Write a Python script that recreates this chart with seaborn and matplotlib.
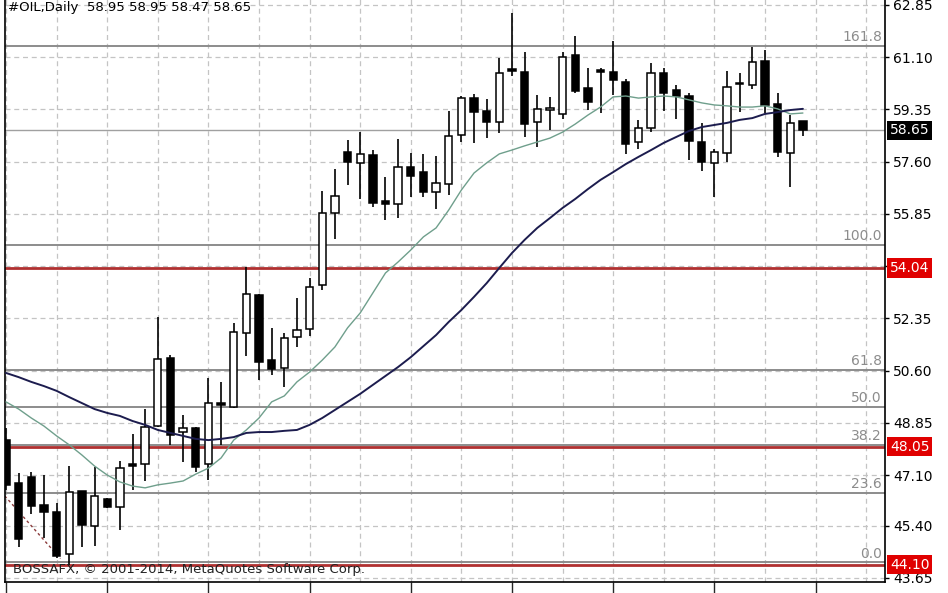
import numpy as np
import pandas as pd
import matplotlib
matplotlib.use("Agg")
import matplotlib.pyplot as plt
import matplotlib.transforms as mtransforms
import seaborn as sns

# daily OHLC (oldest first)
opens = [48.27, 46.83, 47.03, 46.10, 45.86, 44.46, 46.56, 45.39, 46.30, 46.03,
         47.47, 47.47, 48.74, 51.02, 48.54, 48.68, 47.47, 49.51, 49.38, 51.86,
         53.13, 50.95, 50.69, 51.73, 51.99, 53.47, 55.88, 57.92, 57.56, 57.82,
         56.28, 56.18, 57.42, 57.25, 56.58, 56.85, 58.49, 59.73, 59.30, 58.93,
         60.71, 60.61, 58.93, 59.33, 59.20, 61.17, 60.07, 60.67, 60.61, 60.27,
         58.26, 58.73, 60.57, 60.00, 59.80, 58.26, 57.56, 57.89, 60.20, 60.17,
         60.97, 59.53, 57.89, 58.95]
highs = [48.67, 47.17, 47.20, 47.10, 46.16, 47.40, 46.56, 47.37, 46.33, 47.57,
         48.47, 49.31, 52.40, 51.12, 49.11, 48.70, 50.35, 50.22, 52.19, 54.07,
         53.15, 52.03, 51.86, 53.03, 53.70, 56.62, 57.35, 58.33, 58.60, 57.99,
         57.09, 58.36, 57.89, 57.86, 57.79, 59.30, 59.80, 59.87, 59.70, 61.07,
         62.58, 61.27, 59.83, 59.77, 61.27, 61.81, 60.74, 60.74, 61.64, 60.37,
         59.00, 60.91, 60.74, 60.17, 59.90, 58.90, 58.03, 60.64, 60.57, 61.44,
         61.34, 59.90, 59.16, 58.95]
lows = [46.60, 44.69, 45.79, 44.99, 44.32, 44.09, 44.69, 44.72, 46.00, 45.26,
        46.60, 46.90, 48.70, 48.11, 47.53, 47.20, 46.93, 48.11, 49.35, 51.09,
        50.28, 50.45, 50.05, 51.39, 51.76, 53.30, 55.01, 56.82, 56.35, 56.08,
        55.65, 55.71, 56.42, 56.42, 56.02, 56.48, 58.26, 58.23, 58.39, 58.56,
        60.47, 58.43, 58.09, 58.66, 59.03, 59.90, 59.33, 59.23, 59.83, 57.86,
        58.03, 58.59, 59.30, 59.03, 57.66, 57.29, 56.42, 57.59, 59.26, 60.04,
        59.23, 57.76, 56.75, 58.47]
closes = [46.76, 44.96, 46.06, 45.86, 44.39, 46.53, 45.43, 46.40, 46.03, 47.33,
          47.40, 48.71, 50.99, 48.44, 48.68, 47.37, 49.51, 49.45, 51.89, 53.17,
          50.89, 50.65, 51.69, 51.96, 53.40, 55.88, 56.45, 57.59, 57.86, 56.22,
          56.18, 57.42, 57.12, 56.58, 56.89, 58.46, 59.73, 59.26, 58.93, 60.57,
          60.64, 58.86, 59.37, 59.40, 61.11, 59.97, 59.60, 60.61, 60.34, 58.19,
          58.73, 60.57, 59.90, 59.80, 58.29, 57.59, 57.92, 60.10, 60.24, 60.94,
          59.50, 57.92, 58.90, 58.65]

# moving averages as drawn on the chart
ma_fast = [49.55, 49.31, 49.01, 48.74, 48.41, 48.11, 47.77, 47.40, 47.10, 46.87,
           46.73, 46.67, 46.77, 46.83, 46.90, 47.13, 47.33, 47.67, 48.27, 48.61,
           49.01, 49.55, 49.75, 50.22, 50.55, 50.95, 51.39, 52.03, 52.53, 53.20,
           53.87, 54.24, 54.64, 55.08, 55.38, 55.98, 56.65, 57.22, 57.56, 57.86,
           57.99, 58.13, 58.26, 58.39, 58.59, 58.86, 59.16, 59.43, 59.77, 59.80,
           59.73, 59.77, 59.80, 59.77, 59.67, 59.57, 59.50, 59.47, 59.43, 59.43,
           59.47, 59.37, 59.20, 59.23]
ma_slow = [50.52, 50.38, 50.22, 50.08, 49.92, 49.71, 49.51, 49.31, 49.18, 49.08,
           48.91, 48.78, 48.61, 48.51, 48.41, 48.31, 48.27, 48.31, 48.37, 48.51,
           48.54, 48.54, 48.58, 48.61, 48.78, 49.01, 49.28, 49.55, 49.82, 50.12,
           50.42, 50.72, 51.05, 51.42, 51.79, 52.23, 52.63, 53.07, 53.53, 54.04,
           54.54, 54.98, 55.38, 55.71, 56.05, 56.35, 56.68, 56.99, 57.25, 57.52,
           57.76, 57.99, 58.23, 58.43, 58.63, 58.76, 58.83, 58.90, 59.00, 59.06,
           59.20, 59.26, 59.33, 59.37]

ytick_vals = [62.85, 61.10, 59.35, 57.60, 55.85, 54.10, 52.35, 50.60, 48.85, 47.10, 45.40, 43.65]
ytick_text = ["62.85", "61.10", "59.35", "57.60", "55.85", "", "52.35", "50.60", "48.85", "47.10", "45.40", "43.65"]

fib_levels = [44.17, 46.51, 48.10, 49.37, 50.62, 54.81, 61.49]
fib_labels = ["0.0", "23.6", "38.2", "50.0", "61.8", "100.0", "161.8"]

red_levels = [54.04, 48.05, 44.10]
red_labels = ["54.04", "48.05", "44.10"]

last_price = 58.65
trend_x = [-0.1, 4.3]
trend_y = [46.40, 44.30]

title = "#OIL,Daily  58.95 58.95 58.47 58.65"
watermark = "BOSSAFX, \u00a9 2001-2014, MetaQuotes Software Corp."

sns.set_style("white")
plt.rcParams["font.family"] = ["DejaVu Sans"]

df = pd.DataFrame({"bar": np.arange(len(closes)), "open": opens, "high": highs,
                   "low": lows, "close": closes, "fast": ma_fast, "slow": ma_slow})

fig = plt.figure(figsize=(9.48, 5.93), dpi=100)
ax = fig.add_axes([5 / 948, 11 / 593, 880 / 948, 597 / 593])
ax.set_xlim(-0.08, 69.49)
ax.set_ylim(43.515, 63.52)

# grid
ax.set_yticks(ytick_vals)
ax.set_yticklabels(ytick_text)
ax.set_xticks(np.arange(0, 69, 8))
ax.set_xticks(np.arange(4, 69, 8), minor=True)
ax.set_xticklabels([])
ax.grid(True, which="both", color="#c4c4c4", linestyle=(0, (4, 3)), linewidth=0.9)
ax.set_axisbelow(True)

ax.yaxis.tick_right()
ax.tick_params(axis="y", length=3, width=1, pad=3, labelsize=10, colors="black", which="major")
ax.tick_params(axis="x", which="major", length=8, width=1, direction="out", bottom=True)
ax.tick_params(axis="x", which="minor", length=0)
for s in ax.spines.values():
    s.set_color("black")
    s.set_linewidth(1.2)
ax.spines["top"].set_visible(False)

trans = mtransforms.blended_transform_factory(ax.transAxes, ax.transData)

# fibo levels
for lv, lb in zip(fib_levels, fib_labels):
    ax.axhline(lv, color="#8c8c8c", lw=1.4, zorder=1)
    ax.text(0.9965, lv + 0.06, lb, transform=trans, ha="right", va="bottom",
            color="#8c8c8c", fontsize=10)

# horizontal support/resistance lines
for lv, lb in zip(red_levels, red_labels):
    ax.axhline(lv, color="#b03030", lw=2.0, zorder=1.5)
    ax.text(1.0055, lv, lb, transform=trans, ha="left", va="center", color="white",
            fontsize=10, bbox=dict(boxstyle="square,pad=0.2", fc="#e00000", ec="none"),
            clip_on=False)

ax.axhline(last_price, color="#a0a0a0", lw=1.0, zorder=1)
ax.text(1.0055, last_price, "58.65", transform=trans, ha="left", va="center", color="white",
        fontsize=10, bbox=dict(boxstyle="square,pad=0.2", fc="black", ec="none"), clip_on=False)

ax.plot(trend_x, trend_y, color="#8b3a3a", lw=1.0, ls=(0, (2, 2)), zorder=2)

# candles
up = df[df["close"] >= df["open"]]
dn = df[df["close"] < df["open"]]
ax.vlines(df["bar"], df["low"], df["high"], color="black", lw=1.2, zorder=3)
body_w = 0.58
for part, fc in ((up, "white"), (dn, "black")):
    bottom = np.minimum(part["open"], part["close"])
    height = np.maximum((part["close"] - part["open"]).abs(), 0.03)
    ax.bar(part["bar"], height, bottom=bottom, width=body_w, color=fc,
           edgecolor="black", linewidth=1.1, zorder=4)

# moving averages
sns.lineplot(data=df, x="bar", y="fast", ax=ax, color="#6f9f8c", lw=1.0, zorder=5)
sns.lineplot(data=df, x="bar", y="slow", ax=ax, color="#1c1c4e", lw=1.4, zorder=5)
ax.set_xlabel("")
ax.set_ylabel("")

ax.text(8 / 880, 43.93, watermark, transform=trans, ha="left", va="center",
        fontsize=9.5, color="#222222", zorder=6)
fig.text(8 / 948, 0.999, title, ha="left", va="top", fontsize=9.5, color="black")

fig.savefig("out.png", dpi=100)
